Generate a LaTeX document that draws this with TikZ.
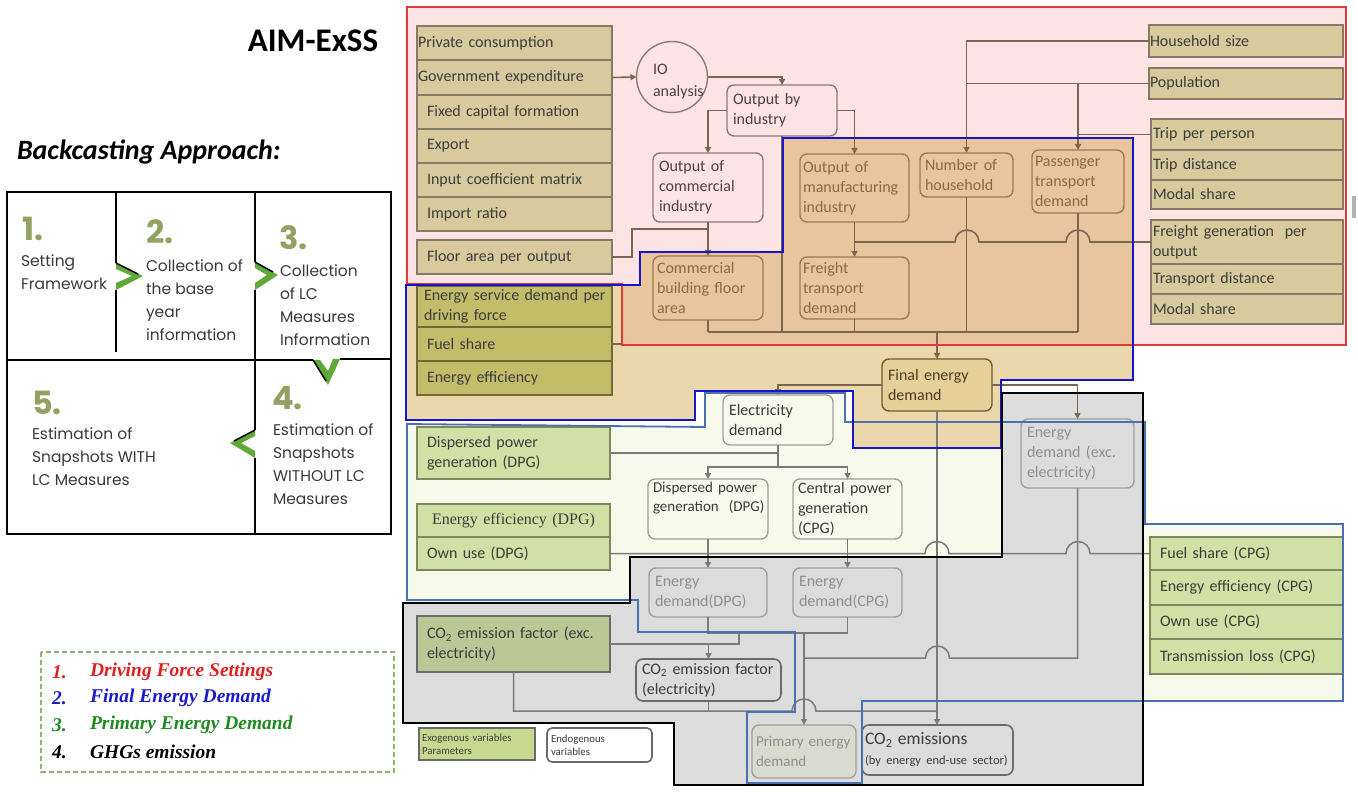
\documentclass[tikz,border=0pt]{standalone}
\usepackage{fontspec}
\setmainfont{Carlito}
\newfontfamily\gothic{Poppins}
\newfontfamily\timesf{Liberation Serif}
\usetikzlibrary{arrows.meta}
\definecolor{pinkbg}{HTML}{FCE4E4}
\definecolor{redline}{HTML}{E53935}
\definecolor{fedbg}{HTML}{EAD8AC}
\definecolor{interbg}{HTML}{E8C59C}
\definecolor{fedblue}{HTML}{1616C8}
\definecolor{primbg}{HTML}{F7FAEA}
\definecolor{primblue}{HTML}{4A70AE}
\definecolor{ghgbg}{HTML}{DCDCDC}
\definecolor{tanfill}{HTML}{D8CA9D}
\definecolor{tanline}{HTML}{857A66}
\definecolor{olivefill}{HTML}{C3BC68}
\definecolor{oliveline}{HTML}{6F6A36}
\definecolor{greenfill}{HTML}{D1E0A4}
\definecolor{greenline}{HTML}{7B8A5C}
\definecolor{co2fill}{HTML}{B9C895}
\definecolor{exofill}{HTML}{C6D98E}
\definecolor{txt}{HTML}{3C3C3C}
\definecolor{pinkline}{HTML}{8E7878}
\definecolor{pinktxt}{HTML}{4D4242}
\definecolor{orline}{HTML}{9C7B4C}
\definecolor{ortxt}{HTML}{8A6A3E}
\definecolor{fedfill}{HTML}{E6D09A}
\definecolor{fedline}{HTML}{6E5A2E}
\definecolor{fedtxt}{HTML}{4A3C1E}
\definecolor{greyline}{HTML}{9E9E9E}
\definecolor{greytxt}{HTML}{8E8E8E}
\definecolor{darkgrey}{HTML}{6A6A6A}
\definecolor{brconn}{HTML}{7D6650}
\definecolor{grconn}{HTML}{7A7A7A}
\definecolor{numgreen}{HTML}{93A264}
\definecolor{chevgreen}{HTML}{5FA83A}
\definecolor{legred}{HTML}{E0201E}
\definecolor{legblue}{HTML}{1A1ACC}
\definecolor{leggreen}{HTML}{1F8A22}
\definecolor{legdash}{HTML}{8DB36A}
\definecolor{gtxt}{HTML}{3A3A3A}
\definecolor{pedfill}{HTML}{D8DBCE}

\newcommand\mybox[8]{%
  \pgfmathsetmacro\bxw{#5-#3}%
  \pgfmathsetmacro\bxh{#6-#4}%
  \pgfmathsetmacro\bxtw{#5-#3-2*#7}%
  \pgfmathsetmacro\bxcx{(#3+#5)/2}%
  \pgfmathsetmacro\bxcy{(#4+#6)/2}%
  \node[#1, minimum width=\bxw pt, minimum height=\bxh pt, inner xsep=#7pt, text width=\bxtw pt] (#2) at (\bxcx,\bxcy) {#8};%
}

\begin{document}
\begin{tikzpicture}[x=1pt,y=-1pt,
  every node/.style={outer sep=0pt, inner ysep=0pt},
  font=\fontsize{16}{20}\selectfont,
  tanbox/.style={draw=tanline, fill=tanfill, line width=1.6pt, text=txt, align=left},
  pinknode/.style={draw=pinkline, fill=pinkbg, rounded corners=7pt, line width=1.4pt, text=pinktxt, align=left},
  ornode/.style={draw=orline, rounded corners=7pt, line width=1.4pt, text=ortxt, align=left},
  fednode/.style={draw=fedline, fill=fedfill, rounded corners=7pt, line width=1.4pt, text=fedtxt, align=left},
  olivebox/.style={draw=oliveline, fill=olivefill, line width=1.6pt, text=txt, align=left},
  greenbox/.style={draw=greenline, fill=greenfill, line width=1.6pt, text=txt, align=left},
  whitenode/.style={draw=greyline, fill=primbg, rounded corners=7pt, line width=1.4pt, text=txt, align=left},
  greynode/.style={draw=greyline, rounded corners=7pt, line width=1.4pt, text=greytxt, align=left},
  co2node/.style={draw=darkgrey, rounded corners=7pt, line width=1.6pt, text=txt, align=left},
  bconn/.style={draw=brconn, line width=1.6pt},
  gconn/.style={draw=grconn, line width=1.5pt},
  arr/.style={-{Triangle[length=6pt,width=6pt]}},
  gtext/.style={font=\gothic\fontsize{15.5}{23}\selectfont, text=gtxt, align=left, anchor=west, inner sep=0pt},
  gnum/.style={font=\gothic\bfseries\fontsize{32}{34}\selectfont, text=numgreen, anchor=west, inner sep=0pt},
  legtext/.style={font=\timesf\bfseries\itshape\fontsize{19.5}{22}\selectfont, anchor=west, inner sep=0pt}
]
\useasboundingbox (0,0) rectangle (1358,794);
\fill[white] (0,0) rectangle (1358,794);

% ---------- regions: fills ----------
\fill[primbg] (407,424) -- (705,427) -- (705,393) -- (845,393) -- (845,422) -- (1145,422) -- (1145,524) -- (1343,524) -- (1343,701) -- (862,701) -- (862,783) -- (747,783) -- (747,712) -- (795,712) -- (795,632) -- (638,632) -- (638,600) -- (407,600) -- cycle;
\fill[ghgbg] (1002,393) -- (1143,393) -- (1143,785) -- (674,785) -- (674,723) -- (403,723) -- (403,603) -- (630,603) -- (630,557) -- (1002,557) -- cycle;
\fill[pinkbg] (407,7) -- (1346,7) -- (1346,345) -- (622,345) -- (622,284) -- (407,284) -- cycle;
\fill[fedbg] (783,138) -- (1133,138) -- (1133,380) -- (1001,380) -- (1001,448) -- (853,448) -- (853,391) -- (695,391) -- (695,420) -- (406,420) -- (406,285) -- (640,285) -- (640,252) -- (783,252) -- cycle;
\begin{scope}
\clip (407,7) -- (1346,7) -- (1346,345) -- (622,345) -- (622,284) -- (407,284) -- cycle;
\fill[interbg] (783,138) -- (1133,138) -- (1133,380) -- (1001,380) -- (1001,448) -- (853,448) -- (853,391) -- (695,391) -- (695,420) -- (406,420) -- (406,285) -- (640,285) -- (640,252) -- (783,252) -- cycle;
\end{scope}

\coordinate (faj) at (708,229);
\coordinate (colL) at (708,332);
\coordinate (colR) at (1078,332);
\coordinate (elj) at (778,467);
\coordinate (edj) at (1077.5,658);
\coordinate (pj) at (804,633);
\coordinate (cj) at (937,711);
\coordinate (fsj) at (622,344);

% ---------- nodes: driving force ----------
\mybox{tanbox}{pc}{417}{26}{612}{60}{1}{Private consumption}
\mybox{tanbox}{ge}{417}{60}{612}{95}{1}{Government expenditure}
\mybox{tanbox}{fcf}{417}{95}{612}{129}{10}{Fixed capital formation}
\mybox{tanbox}{exq}{417}{129}{612}{163}{10}{Export}
\mybox{tanbox}{icm}{417}{163}{612}{197}{10}{Input coefficient matrix}
\mybox{tanbox}{ir}{417}{197}{612}{231}{10}{Import ratio}
\mybox{tanbox}{fa}{417}{240}{612}{274}{10}{Floor area per output}

\node[draw=pinkline, line width=1.4pt, circle, minimum size=71pt, fill=pinkbg] (io) at (672,77) {};
\node[anchor=west, align=left, text=pinktxt, inner sep=0pt, font=\fontsize{16}{22}\selectfont] (iot) at (653,82) {IO\\analysis};

\mybox{pinknode}{obi}{727}{85}{837}{136}{6}{Output by\\industry}
\mybox{pinknode}{oci}{653}{153}{763}{222}{6}{Output of\\commercial\\industry}
\mybox{ornode}{cbfa}{653}{256}{763}{320}{4}{Commercial\\building floor\\area}
\mybox{ornode}{omi}{800}{154}{909}{222}{3}{Output of\\manufacturing\\industry}
\mybox{ornode}{noh}{920}{153}{1013}{197}{5}{Number of\\household}
\mybox{ornode}{ptd}{1032}{150}{1124}{213}{3}{Passenger\\transport\\demand}
\mybox{ornode}{ftd}{800}{257}{909}{319}{3}{Freight\\transport\\demand}

\mybox{tanbox}{hs}{1149}{25}{1343}{57}{1}{Household size}
\mybox{tanbox}{pop}{1149}{68}{1343}{99}{1}{Population}
\mybox{tanbox}{tpp}{1151}{119}{1343}{150}{2}{Trip per person}
\mybox{tanbox}{td}{1151}{150}{1343}{180}{2}{Trip distance}
\mybox{tanbox}{ms1}{1151}{180}{1343}{209}{2}{Modal share}
\mybox{tanbox}{fgo}{1151}{220}{1343}{264}{2}{Freight generation\ \ per\\output}
\mybox{tanbox}{trd}{1151}{264}{1343}{294}{2}{Transport distance}
\mybox{tanbox}{ms2}{1151}{294}{1343}{324}{2}{Modal share}

% ---------- final energy ----------
\mybox{olivebox}{esd}{417}{286}{612}{327}{7}{\mbox{Energy service demand per}\\driving force}
\mybox{olivebox}{fs}{417}{327}{612}{361}{10}{Fuel share}
\mybox{olivebox}{ee}{417}{361}{612}{395}{10}{Energy efficiency}
\mybox{fednode}{fed}{882}{359}{992}{411}{6}{Final energy\\demand}

% ---------- primary energy ----------
\mybox{whitenode}{eld}{723}{395}{833}{445}{6}{Electricity\\demand}
\mybox{greenbox}{dpgp}{417}{427}{610}{479}{10}{Dispersed power\\generation (DPG)}
\mybox{greenbox, align=center}{eedpg}{417}{504}{610}{537}{3}{\timesf Energy efficiency (DPG)}
\mybox{greenbox}{oudpg}{417}{537}{610}{570}{10}{Own use (DPG)}
\mybox{whitenode, font=\fontsize{15}{19}\selectfont}{dpg}{648}{479}{768}{539}{5}{Dispersed power\\\mbox{generation~~(DPG)}\\\strut}
\mybox{whitenode}{cpg}{793}{479}{902}{539}{5}{Central power\\generation\\(CPG)}
\mybox{greynode}{eddpg}{649}{568}{767}{617}{6}{Energy\\demand(DPG)}
\mybox{greynode}{edcpg}{793}{568}{902}{617}{6}{Energy\\demand(CPG)}
\mybox{greynode}{edx}{1021}{419}{1134}{488}{6}{Energy\\demand (exc.\\electricity)}
\mybox{greenbox}{fscpg}{1150}{537}{1343}{570}{10}{Fuel share (CPG)}
\mybox{greenbox}{eecpg}{1150}{570}{1343}{605}{10}{Energy efficiency (CPG)}
\mybox{greenbox}{oucpg}{1150}{605}{1343}{639}{10}{Own use (CPG)}
\mybox{greenbox}{tlcpg}{1150}{639}{1343}{674}{10}{Transmission loss (CPG)}
\mybox{greynode, fill=pedfill, font=\fontsize{15}{20}\selectfont}{ped}{752}{725}{856}{778}{4}{\mbox{Primary energy}\\demand}

% ---------- GHG ----------
\mybox{greenbox, fill=co2fill, draw=darkgrey}{co2x}{417}{616}{610}{672}{10}{CO\textsubscript{2} emission factor (exc.\\electricity)}
\mybox{co2node}{co2e}{636}{659}{781}{701}{6}{CO\textsubscript{2} emission factor\\(electricity)}
\mybox{co2node}{co2}{862}{725}{1013}{775}{3}{{\fontsize{17.5}{20}\selectfont CO\textsubscript{2} emissions}\\{\fontsize{12.5}{16}\selectfont\mbox{(by energy end-use sector)}}}

% legend boxes
\mybox{greenbox, fill=exofill, draw=darkgrey, font=\fontsize{10.8}{13}\selectfont}{exo}{419}{728}{535}{760}{3}{Exogenous variables\\Parameters}
\mybox{co2node, fill=white, rounded corners=5pt, font=\fontsize{10.8}{13}\selectfont}{endo}{547}{728}{652}{762}{4}{Endogenous\\variables}

% ---------- connectors: driving force ----------
\draw[bconn, arr] (ge.east) -- (io.west);
\draw[bconn, arr] (io.east) -| (obi.north);
\draw[bconn, arr] (obi.west) -| (oci.north);
\draw[bconn, arr] (oci.south) -- (cbfa.north);
\draw[bconn] (fa.east) -- (632,257) |- (faj);
\draw[bconn, arr] (obi.east) -| (omi.north);
\draw[bconn] (obi.south) -- (782,332);
\draw[bconn] (cbfa.south) -- (cbfa.south |- colL);
\draw[bconn] (ftd.south) -- (ftd.south |- colL);
\draw[bconn] (noh.south) -- (noh.south |- colL);
\draw[bconn] (ptd.south) -- (ptd.south |- colL);
\draw[bconn] (colL) -- (colR);
\draw[bconn, arr] (fed.north |- colL) -- (fed.north);
\draw[bconn, arr] (omi.south) -- (ftd.north);
\draw[bconn] (fgo.west) -- (1090,242) arc[start angle=0, end angle=180, radius=12pt] -- (979,242) arc[start angle=0, end angle=180, radius=12pt] -- (omi.south |- fgo.west);
\draw[bconn, arr] (hs.west) -| (noh.north);
\draw[bconn] (pop.west) -- (noh.north |- pop.west);
\draw[bconn, arr] (ptd.north |- pop.west) -- (ptd.north);
\draw[bconn] (tpp.west) -- (ptd.north |- tpp.west);
\draw[bconn] (fs.east) -- (fsj);
\draw[bconn, arr] (fed.west) -| (eld.north);
\draw[bconn, arr] (fed.east) -| (edx.north);

% ---------- connectors: primary / GHG ----------
\draw[gconn, arr] (fed.south) -- (fed.south |- co2.north);
\draw[gconn] (dpgp.east) -- (eld.south |- dpgp.east);
\draw[gconn] (eld.south) -- (elj);
\draw[gconn, arr] (elj) -| (dpg.north);
\draw[gconn, arr] (elj) -| (cpg.north);
\draw[gconn, arr] (dpg.south) -- (eddpg.north);
\draw[gconn, arr] (cpg.south) -- (edcpg.north);
\draw[gconn] (oudpg.east) -- (925,553.5) arc[start angle=180, end angle=0, radius=12pt] -- (1066,553.5) arc[start angle=180, end angle=0, radius=12pt] -- (fscpg.west);
\draw[gconn] (edx.south) -- (edj) -- (949.5,658) arc[start angle=0, end angle=180, radius=12pt] -- (ped.north |- edj);
\draw[gconn] (eddpg.south) -- (eddpg.south |- pj) -- (edcpg.south |- pj) -- (edcpg.south);
\draw[gconn, arr] (pj) -- (ped.north);
\draw[gconn] (co2x.east) -- (739,644) -- (739,633);
\draw[gconn, arr] (co2e.north |- co2x.east) -- (co2e.north);
\draw[gconn] (co2x.south) -- (513.5,711) -- (792,711) arc[start angle=180, end angle=0, radius=12pt] -- (cj);
\draw[gconn] (co2e.south) -- (co2e.south |- cj);

% ---------- region outlines ----------
\draw[redline, line width=2pt] (407,7) -- (1346,7) -- (1346,345) -- (622,345) -- (622,284) -- (407,284) -- cycle;
\draw[primblue, line width=1.8pt] (407,424) -- (705,427) -- (705,393) -- (845,393) -- (845,422) -- (1145,422) -- (1145,524) -- (1343,524) -- (1343,701) -- (862,701) -- (862,783) -- (747,783) -- (747,712) -- (795,712) -- (795,632) -- (638,632) -- (638,600) -- (407,600) -- cycle;
\draw[fedblue, line width=2.5pt] (783,138) -- (1133,138) -- (1133,380) -- (1001,380) -- (1001,448) -- (853,448) -- (853,391) -- (695,391) -- (695,420) -- (406,420) -- (406,285) -- (640,285) -- (640,252) -- (783,252) -- cycle;
\draw[black, line width=2.5pt] (1002,393) -- (1143,393) -- (1143,785) -- (674,785) -- (674,723) -- (403,723) -- (403,603) -- (630,603) -- (630,557) -- (1002,557) -- cycle;

% ---------- left side ----------
\node[font=\fontsize{33}{36}\selectfont\bfseries, text=black] (title) at (313,41) {AIM-ExSS};
\node[font=\fontsize{28}{32}\selectfont\bfseries\itshape, anchor=west, inner sep=0pt] (bca) at (17,152) {Backcasting Approach:};

\draw[line width=2.5pt] (7,192) rectangle (391,534);
\draw[line width=2.5pt] (116,192) -- (116,263) (116,290) -- (116,352);
\draw[line width=2.5pt] (255,192) -- (255,262) (255,290) -- (255,430) (255,458) -- (255,534);
\draw[line width=2.5pt] (7,360) -- (313,360) (340,359) -- (391,359);
\fill[chevgreen] (116,263) -- (143,276) -- (116,290) -- (116,283) -- (132,276) -- (116,269) -- cycle;
\draw[line width=1.5pt] (116,263) -- (138,274);
\fill[chevgreen] (255,262) -- (278,275) -- (255,290) -- (255,283) -- (267,275) -- (255,268) -- cycle;
\draw[line width=1.5pt] (255,262) -- (273,272);
\fill[chevgreen] (313,360) -- (328,385) -- (340,359) -- (333,359) -- (328,371) -- (320,360) -- cycle;
\draw[line width=1.5pt] (313,360) -- (326,381);
\fill[chevgreen] (255,430) -- (230,443) -- (255,458) -- (255,451) -- (241,443) -- (255,436) -- cycle;
\draw[line width=1.5pt] (255,430) -- (234,441);

\node[gnum] (n1) at (22,229) {1.};
\node[gnum] (n2) at (146,232) {2.};
\node[gnum] (n3) at (279,238) {3.};
\node[gnum] (n4) at (272,398) {4.};
\node[gnum] (n5) at (32,403) {5.};
\node[gtext] (s1) at (21,272) {Setting\\Framework};
\node[gtext] (s2) at (146,300) {Collection of\\the base\\year\\information};
\node[gtext] (s3) at (280,305) {Collection\\of LC\\Measures\\Information};
\node[gtext] (s4) at (273,464) {Estimation of\\Snapshots\\WITHOUT LC\\Measures};
\node[gtext] (s5) at (32,457) {Estimation of\\Snapshots WITH\\LC Measures};

\draw[legdash, line width=1.3pt, dash pattern=on 5pt off 3pt] (41,652) rectangle (394,772);
\node[legtext, text=legred] (l1n) at (52,672) {1.};
\node[legtext, text=legred] (l1) at (90,672) {Driving Force Settings};
\node[legtext, text=legblue] (l2n) at (52,698) {2.};
\node[legtext, text=legblue] (l2) at (90,698) {Final Energy Demand};
\node[legtext, text=leggreen] (l3n) at (52,725) {3.};
\node[legtext, text=leggreen] (l3) at (90,725) {Primary Energy Demand};
\node[legtext, text=black] (l4n) at (52,752) {4.};
\node[legtext, text=black] (l4) at (90,752) {GHGs emission};

\fill[gray!60] (1352,196) rectangle (1356,218);
\end{tikzpicture}
\end{document}
